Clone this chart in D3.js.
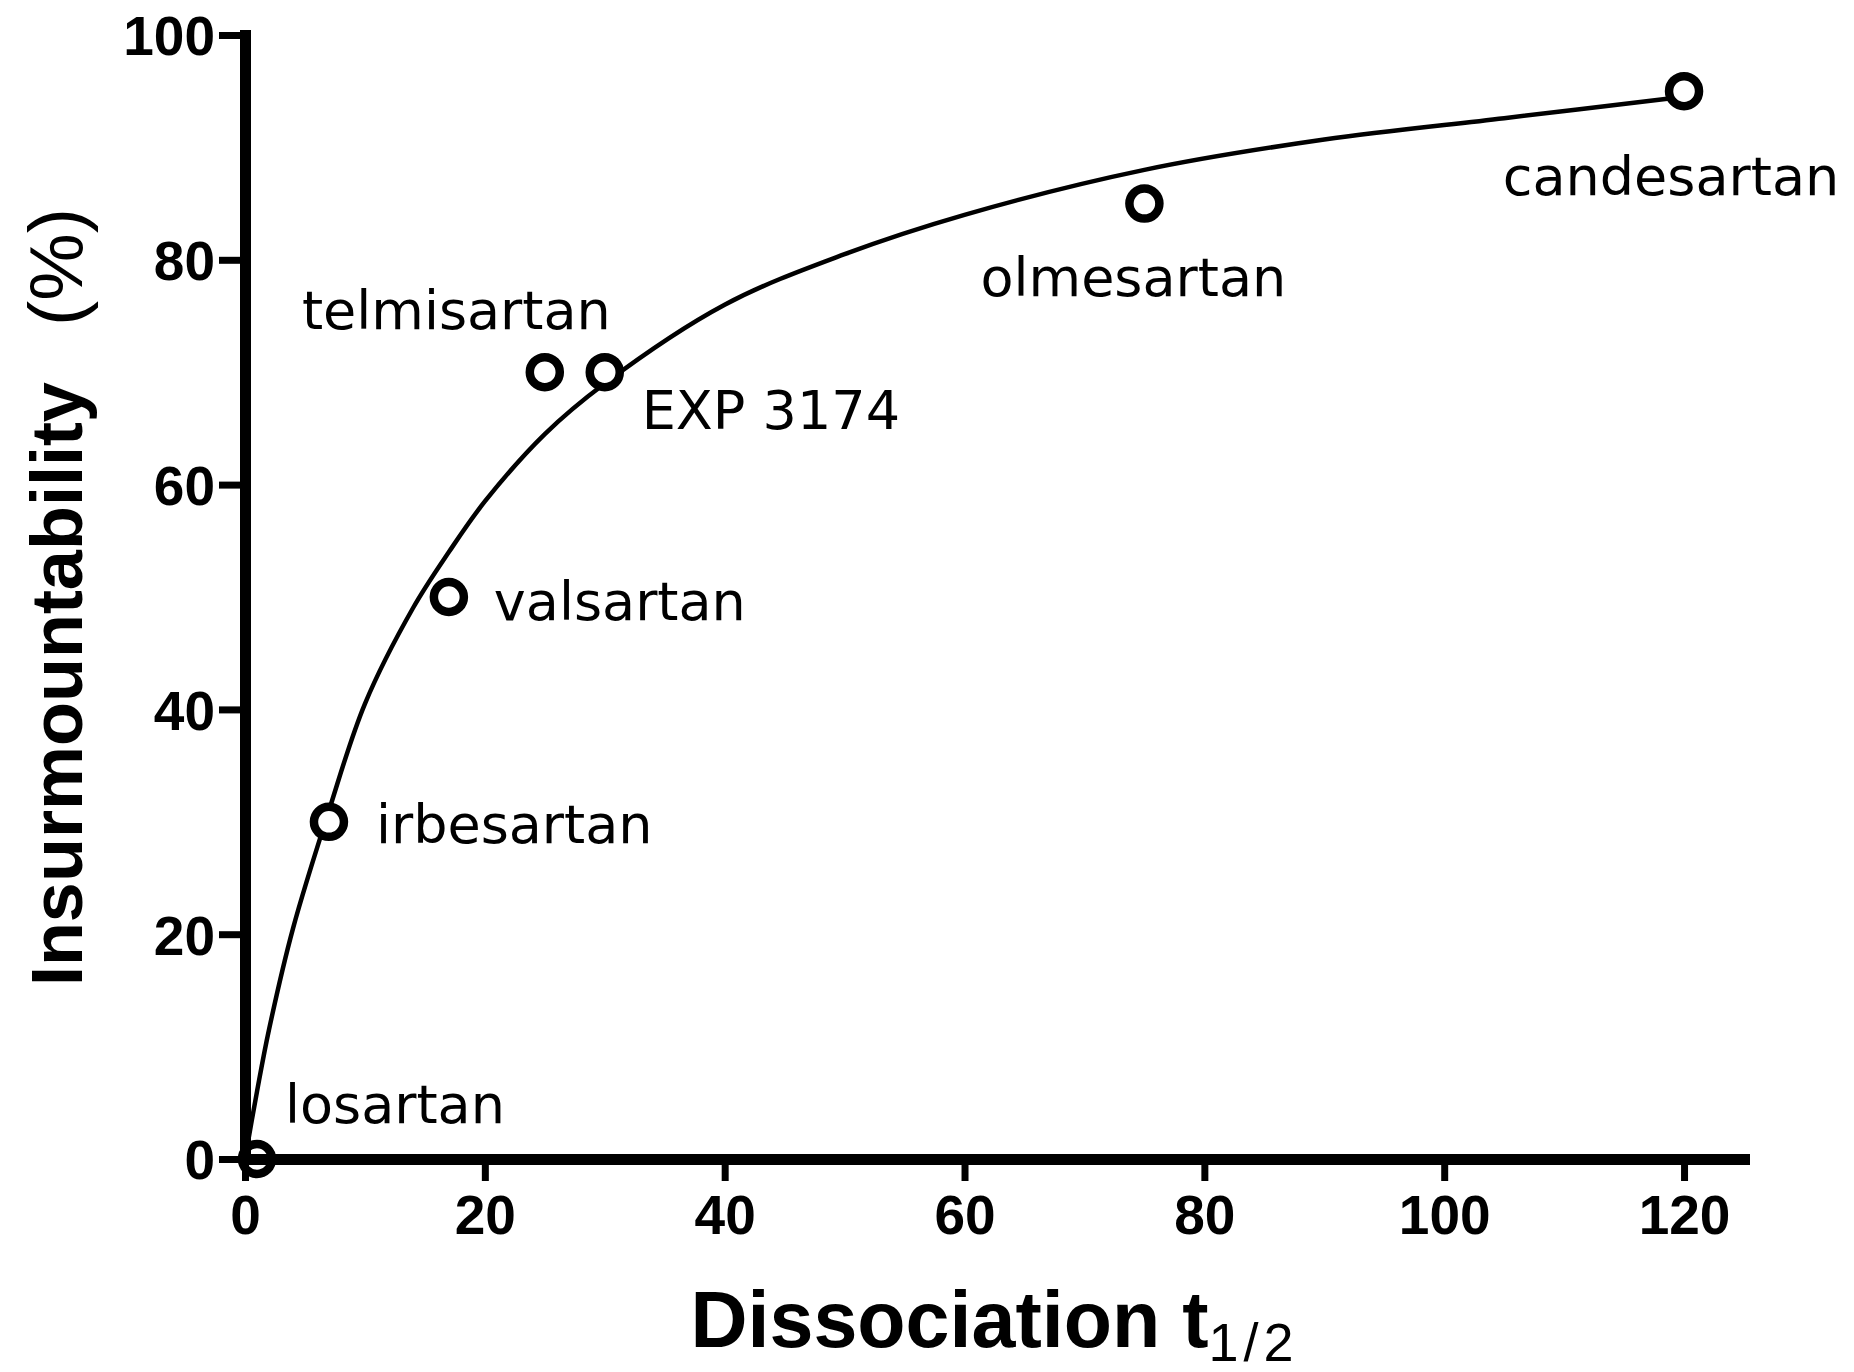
<!DOCTYPE html>
<html>
<head>
	<meta charset="UTF-8">
	<title>Insurmountability vs dissociation</title>
	<script src="https://d3js.org/d3.v7.min.js"></script>
	<style>
		body { margin: 0; background: #fff; }
		.axis path, .axis line { stroke: #000; }
		.axis text { font-family: "Liberation Sans", Arial, sans-serif; font-weight: bold; font-size: 55px; fill: #000; }
		.fit { fill: none; stroke: #000; stroke-width: 4.5px; }
		.dot { fill: #fff; stroke: #000; stroke-width: 8.5px; }
		.label { font-family: "DejaVu Sans", sans-serif; font-size: 54px; fill: #000; }
		.title { font-family: "Liberation Sans", Arial, sans-serif; font-weight: bold; fill: #000; }
	</style>
</head>
<body>
	<script>
		// drugs, half-life of dissociation and insurmountability (%)
		var drugs = ["losartan", "irbesartan", "valsartan", "telmisartan", "EXP 3174", "olmesartan", "candesartan"];
		var halfLife = [1, 7, 17, 25, 30, 75, 120];
		var insurm = [0, 30, 50, 70, 70, 85, 95];

		// fitted curve
		var curveX = [0, 1, 2, 4, 7, 10, 14, 17, 20, 25, 30, 40, 50, 60, 75, 90, 105, 120];
		var curveY = [0, 6, 11.5, 20.5, 31, 40.5, 49, 54, 58.5, 64.5, 69, 76, 80.5, 84, 88, 90.7, 92.6, 94.5];

		var xTicks = [0, 20, 40, 60, 80, 100, 120];
		var yTicks = [0, 20, 40, 60, 80, 100];

		// label placement relative to each point: [dx, dy, anchor]
		var labelPos = [[28, -36, "start"], [47, 21, "start"], [45, 23, "start"], [66, -43, "end"],
			[37, 57, "start"], [-11, 92, "middle"], [-13, 104, "middle"]];

		var width = 1854, height = 1372;

		var svg = d3.select("body").append("svg")
			.attr("width", width)
			.attr("height", height);

		var x = d3.scaleLinear().domain([0, 125]).range([245, 1744]);
		var y = d3.scaleLinear().domain([0, 100]).range([1159, 35]);

		// fit line
		var line = d3.line()
			.x(function(d) { return x(d[0]); })
			.y(function(d) { return y(d[1]); })
			.curve(d3.curveCatmullRom.alpha(0.5));

		svg.append("path")
			.datum(d3.zip(curveX, curveY))
			.attr("class", "fit")
			.attr("d", line);

		// points
		svg.selectAll(".dot")
			.data(drugs)
			.enter().append("circle")
			.attr("class", "dot")
			.attr("cx", function(d, i) { return x(halfLife[i]); })
			.attr("cy", function(d, i) { return y(insurm[i]); })
			.attr("r", 15);

		// labels
		svg.selectAll(".label")
			.data(drugs)
			.enter().append("text")
			.attr("class", "label")
			.attr("x", function(d, i) { return x(halfLife[i]) + labelPos[i][0]; })
			.attr("y", function(d, i) { return y(insurm[i]) + labelPos[i][1]; })
			.attr("text-anchor", function(d, i) { return labelPos[i][2]; })
			.text(function(d) { return d; });

		// axes
		var xAxis = svg.append("g")
			.attr("class", "axis")
			.attr("transform", "translate(0," + y(0) + ")")
			.call(d3.axisBottom(x).tickValues(xTicks).tickSize(22).tickSizeOuter(0).tickPadding(14));

		var yAxis = svg.append("g")
			.attr("class", "axis")
			.attr("transform", "translate(" + x(0) + ",0)")
			.call(d3.axisLeft(y).tickValues(yTicks).tickSize(26).tickSizeOuter(0).tickPadding(4));

		svg.selectAll(".axis .domain").attr("stroke-width", 11).attr("stroke-linecap", "square");
		svg.selectAll(".axis .tick line").attr("stroke-width", 7);
		yAxis.selectAll("text").attr("dy", "0.36em");

		// axis titles
		var xt = svg.append("text")
			.attr("class", "title")
			.attr("x", (x.range()[0] + x.range()[1]) / 2)
			.attr("y", 1347)
			.attr("text-anchor", "middle")
			.style("font-size", "79px");
		xt.append("tspan").text("Dissociation t");
		xt.append("tspan")
			.attr("dy", 14)
			.style("font-size", "54px")
			.style("font-weight", "normal")
			.style("letter-spacing", "5px")
			.text("1/2");

		var yt = svg.append("text")
			.attr("class", "title")
			.attr("transform", "translate(82," + (y.range()[0] + y.range()[1]) / 2 + ") rotate(-90)")
			.attr("text-anchor", "middle")
			.style("font-size", "72px");
		yt.append("tspan").text("Insurmountability");
		yt.append("tspan")
			.attr("dx", 56)
			.style("font-weight", "normal")
			.style("font-size", "76px")
			.text("(%)");
	</script>
</body>
</html>
